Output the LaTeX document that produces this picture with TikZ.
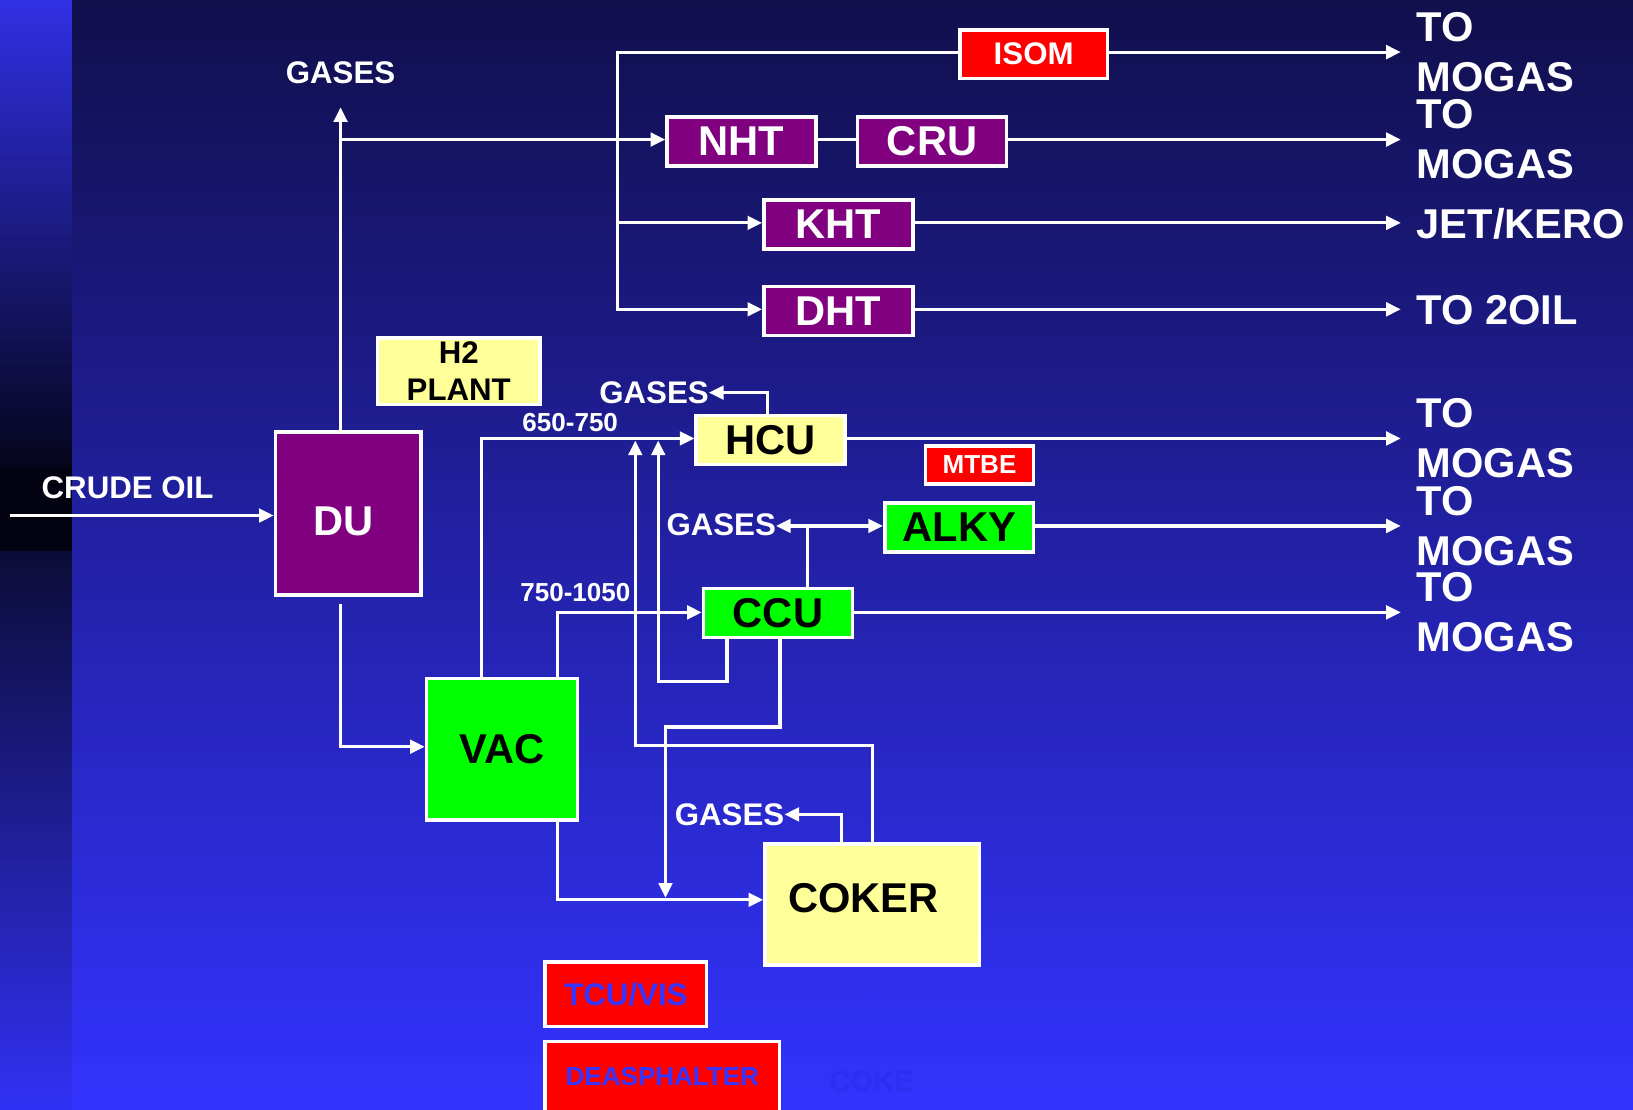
\documentclass[tikz,border=0pt]{standalone}
\usepackage{fontspec}
\setmainfont{Liberation Sans}
\usetikzlibrary{arrows.meta,calc}
\definecolor{bgtop}{HTML}{110F4C}
\definecolor{bgbot}{HTML}{3333FF}
\definecolor{stripA}{HTML}{3030E4}
\definecolor{stripB}{HTML}{05051C}
\definecolor{stripC}{HTML}{020210}
\definecolor{stripD}{HTML}{0C0C38}
\definecolor{stripE}{HTML}{3131F4}
\definecolor{unitpurple}{HTML}{800080}
\definecolor{unitgreen}{HTML}{00FF00}
\definecolor{unityellow}{HTML}{FFFF99}
\definecolor{unitred}{HTML}{FF0000}
\definecolor{bluetext}{HTML}{3535FF}
\definecolor{faintblue}{HTML}{2E2EF3}
\begin{document}
\begin{tikzpicture}[x=1pt,y=-1pt,
  bigfont/.style={font=\bfseries\fontsize{40}{48}\selectfont},
  unitbox/.style={draw=white, line width=3.5pt, inner sep=0pt, bigfont},
  pbox/.style={unitbox, fill=unitpurple, text=white, minimum width=143pt, minimum height=47pt},
  gbox/.style={unitbox, fill=unitgreen, text=black, minimum width=143pt, minimum height=47pt},
  ybox/.style={unitbox, fill=unityellow, text=black, minimum width=143pt, minimum height=47pt},
  rbox/.style={unitbox, fill=unitred},
  lbl/.style={text=white, inner sep=0pt, font=\bfseries\fontsize{30}{36}\selectfont},
  smalllbl/.style={text=white, inner sep=0pt, font=\bfseries\fontsize{25}{30}\selectfont},
  outlbl/.style={text=white, inner sep=0pt, anchor=west, align=left, bigfont},
  wire/.style={draw=white, line width=3pt},
  arr/.style={wire, -{Triangle[length=14pt,width=13pt]}},
  darr/.style={wire, {Triangle[length=14pt,width=13pt]}-{Triangle[length=14pt,width=13pt]}}
]
% background
\useasboundingbox (0,0) rectangle (1568,1065);
\shade[top color=bgtop, bottom color=bgbot] (0,0) rectangle (1568,1065);
\shade[top color=stripA, bottom color=stripB] (0,0) rectangle (69,448);
\fill[stripC] (0,448) rectangle (69,530);
\shade[top color=stripD, bottom color=stripE] (0,530) rectangle (69,1065);

% units
\node[pbox, minimum width=140pt, minimum height=157pt, text height=43pt, text depth=0pt] (du) at (334.5,493) {DU\hspace*{9pt}};
\node[rbox, text=white, minimum width=142pt, minimum height=47pt, font=\bfseries\fontsize{30}{36}\selectfont] (isom) at (992.5,52) {ISOM};
\node[pbox] (nht) at (712,136) {NHT};
\node[pbox] (cru) at (895,136) {CRU};
\node[pbox] (kht) at (805,215.5) {KHT};
\node[pbox] (dht) at (805,298.5) {DHT};
\node[unitbox, fill=unityellow, text=black, minimum width=156pt, minimum height=64pt, align=center, font=\bfseries\fontsize{30}{36}\selectfont] (h2) at (440.5,356.5) {H2\\PLANT};
\node[ybox] (hcu) at (740,422.5) {HCU};
\node[rbox, text=white, minimum width=104pt, minimum height=36pt, font=\bfseries\fontsize{25}{30}\selectfont] (mtbe) at (940.5,446.5) {MTBE};
\node[gbox] (alky) at (921,506.5) {ALKY};
\node[gbox] (ccu) at (747,588.5) {CCU};
\node[gbox, minimum width=145pt, minimum height=136pt] (vac) at (482,719.5) {VAC};
\node[ybox, minimum width=206pt, minimum height=116pt, text height=28.6pt, text depth=13pt] (coker) at (837.5,868.5) {COKER\hspace*{17pt}};
\node[rbox, text=bluetext, minimum width=155pt, minimum height=62pt, font=\bfseries\fontsize{30}{36}\selectfont] (tcu) at (601,954.5) {TCU/VIS};
\node[rbox, text=bluetext, minimum width=225pt, minimum height=68pt, font=\bfseries\fontsize{25}{30}\selectfont] (deas) at (636,1034) {DEASPHALTER};

% labels
\node[lbl] (crude) at (122.5,468) {CRUDE OIL};
\node[lbl] (gases0) at (327,70) {GASES};
\node[lbl] (gases1) at (628,377) {GASES};
\node[lbl] (gases2) at (692.5,504) {GASES};
\node[lbl] (gases3) at (700.5,782) {GASES};
\node[smalllbl] (t650) at (547.5,406) {650-750};
\node[smalllbl] (t750) at (552.5,569) {750-1050};
\node[outlbl] (out1) at (1360,50) {TO\\MOGAS};
\node[outlbl] (out2) at (1360,134) {TO\\MOGAS};
\node[outlbl] (out3) at (1360,215) {JET/KERO};
\node[outlbl] (out4) at (1360,298) {TO 2OIL};
\node[outlbl] (out5) at (1360,421) {TO\\MOGAS};
\node[outlbl] (out6) at (1360,505) {TO\\MOGAS};
\node[outlbl] (out7) at (1360,588) {TO\\MOGAS};
\node[text=faintblue, inner sep=0pt, font=\bfseries\fontsize{28}{34}\selectfont] (coke) at (837,1038) {COKE};

% coordinates
\coordinate (cin0) at (10,495);
\coordinate (gtip) at (327,103);
\coordinate (gbr) at (327,134);
\coordinate (jtop) at (593,50);
\coordinate (jk) at (593,214);
\coordinate (jbot) at (593,297);
\coordinate (hg) at (737,377);
\coordinate (hcuin) at (462,421);
\coordinate (hcutip) at (462,423);
\coordinate (ag) at (775,505);
\coordinate (cin) at (535,588);
\coordinate (r1a) at (698,654);
\coordinate (r1b) at (632,654);
\coordinate (r2a) at (838,716);
\coordinate (r2b) at (610,716);
\coordinate (r3a) at (749,698);
\coordinate (r3b) at (639,698);
\coordinate (cokin) at (535,864);
\coordinate (cokintip) at (535,862);
\coordinate (kg) at (808,782);
\coordinate (duout) at (327,580);
\coordinate (dv) at (327,717);
\coordinate (cokeout) at (837,1005);

% connectors
\draw[arr] (cin0) -- (cin0 -| du.west);
\draw[arr] (du.north -| gbr) -- (gtip);
\draw[arr] (gbr) -- (gbr -| nht.west);
\draw[arr] (jtop -| isom.west) -- (jtop) -- (jbot) -- (jbot -| dht.west);
\draw[arr] (jtop -| isom.east) -- ([xshift=-15pt]out1.west);
\draw[wire] (gbr -| nht.east) -- (gbr -| cru.west);
\draw[arr] (gbr -| cru.east) -- ([xshift=-15pt]out2.west);
\draw[arr] (jk) -- (jk -| kht.west);
\draw[arr] (jk -| kht.east) -- ([xshift=-15pt]out3.west |- jk);
\draw[arr] (jbot -| dht.east) -- ([xshift=-15pt]out4.west |- jbot);
\draw[arr] (hcu.north -| hg) -- (hg) -- (gases1.east |- hg);
\draw[arr] (vac.north -| hcuin) -- (hcuin) -- (hcuin -| hcu.west);
\draw[arr] (hcuin -| hcu.east) -- ([xshift=-15pt]out5.west);
\draw[wire] (ccu.north -| ag) -- (ag);
\draw[darr] (gases2.east |- ag) -- (ag -| alky.west);
\draw[arr] (ag -| alky.east) -- ([xshift=-15pt]out6.west);
\draw[arr] (vac.north -| cin) -- (cin) -- (cin -| ccu.west);
\draw[arr] (cin -| ccu.east) -- ([xshift=-15pt]out7.west);
\draw[arr] (ccu.south -| r1a) -- (r1a) -- (r1b) -- (r1b |- hcutip);
\draw[arr] (coker.north -| r2a) -- (r2a) -- (r2b) -- (r2b |- hcutip);
\draw[arr] (ccu.south -| r3a) -- (r3a) -- (r3b) -- (r3b |- cokintip);
\draw[arr] (vac.south -| cokin) -- (cokin) -- (cokin -| coker.west);
\draw[arr] (coker.north -| kg) -- (kg) -- (gases3.east |- kg);
\draw[arr] (duout) -- (dv) -- (dv -| vac.west);
\draw[draw=faintblue, line width=2pt] (coker.south -| cokeout) -- (cokeout);
\end{tikzpicture}
\end{document}
